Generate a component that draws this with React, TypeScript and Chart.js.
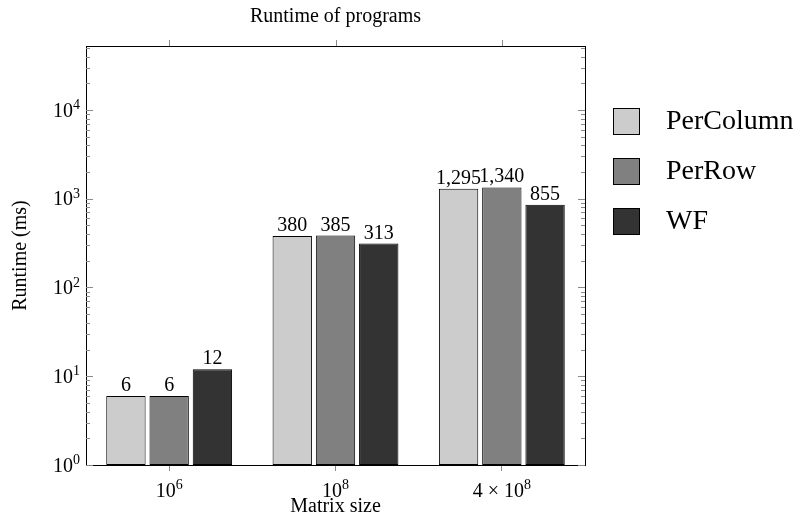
import React, { useEffect, useRef } from 'react';
import { Chart, registerables } from 'chart.js';

Chart.register(...registerables);

const FONT = "'Liberation Serif', 'Times New Roman', 'DejaVu Serif', serif";

const categories = ['10⁶', '10⁸', '4 × 10⁸'];
// category tick labels split into [prefix, base, exponent] for typeset drawing
const categoryPrefix = ['', '', '4 × '];
const categoryExponent = [6, 8, 8];
const seriesNames = ['PerColumn', 'PerRow', 'WF'];
const perColumn = [6, 380, 1295];
const perRow = [6, 385, 1340];
const wf = [12, 313, 855];
const seriesColors = ['#cccccc', '#808080', '#333333'];
const yMin = 1;
const yMax = 52600;
const yDecades = [0, 1, 2, 3, 4];
const chartTitle = 'Runtime of programs';
const xTitle = 'Matrix size';
const yTitle = 'Runtime (ms)';

const BASE_SIZE = 20;
const EXP_SIZE = 14;
const EXP_RAISE = 7.5;

const frameTicksPlugin = {
  id: 'frameTicks',
  afterDraw(chart: any) {
    const { left, right, top, bottom } = chart.chartArea;
    const ctx = chart.ctx as CanvasRenderingContext2D;
    const line = (x1: number, y1: number, x2: number, y2: number) => {
      ctx.beginPath();
      ctx.moveTo(x1, y1);
      ctx.lineTo(x2, y2);
      ctx.stroke();
    };
    ctx.save();
    ctx.lineWidth = 1;
    ctx.strokeStyle = '#8a8a8a';
    const ys = chart.scales.y;
    yDecades.forEach((e) => {
      for (let m = 1; m <= 9; m++) {
        const v = m * Math.pow(10, e);
        if (v < yMin || v > yMax) continue;
        const py = Math.round(ys.getPixelForValue(v)) + 0.5;
        const len = m === 1 ? 7 : 4;
        line(left, py, left + len, py);
        line(right, py, right - len, py);
      }
    });
    const xs = chart.scales.x;
    categories.forEach((_, i) => {
      const px = Math.round(xs.getPixelForValue(i)) + 0.5;
      line(px, top, px, top - 6);
    });
    ctx.strokeStyle = '#000';
    line(left, Math.round(top) + 0.5, right + 1, Math.round(top) + 0.5);
    line(Math.round(right) + 0.5, top, Math.round(right) + 0.5, bottom);
    ctx.restore();
  },
};

// typeset "prefix + 10^exp" labels (base + raised exponent) for both axes
const powerLabelsPlugin = {
  id: 'powerLabels',
  afterDraw(chart: any) {
    const ctx = chart.ctx as CanvasRenderingContext2D;
    const { left, bottom } = chart.chartArea;
    const measure = (prefix: string, exp: number) => {
      ctx.font = `${BASE_SIZE}px ${FONT}`;
      const wb = ctx.measureText(prefix + '10').width;
      ctx.font = `${EXP_SIZE}px ${FONT}`;
      const we = ctx.measureText(String(exp)).width;
      return { wb, we };
    };
    const draw = (prefix: string, exp: number, x: number, baseline: number) => {
      const { wb } = measure(prefix, exp);
      ctx.font = `${BASE_SIZE}px ${FONT}`;
      ctx.fillText(prefix + '10', x, baseline);
      ctx.font = `${EXP_SIZE}px ${FONT}`;
      ctx.fillText(String(exp), x + wb, baseline - EXP_RAISE);
    };
    ctx.save();
    ctx.fillStyle = '#000';
    ctx.textAlign = 'left';
    ctx.textBaseline = 'alphabetic';
    const ys = chart.scales.y;
    yDecades.forEach((e) => {
      const py = ys.getPixelForValue(Math.pow(10, e));
      const { wb, we } = measure('', e);
      draw('', e, left - 6 - wb - we, py + 6.7);
    });
    const xs = chart.scales.x;
    categories.forEach((_, i) => {
      const px = xs.getPixelForValue(i);
      const { wb, we } = measure(categoryPrefix[i], categoryExponent[i]);
      draw(categoryPrefix[i], categoryExponent[i], px - (wb + we) / 2, bottom + 31.7);
    });
    ctx.restore();
  },
};

const dataLabelsPlugin = {
  id: 'dataLabels',
  afterDatasetsDraw(chart: any) {
    const ctx = chart.ctx as CanvasRenderingContext2D;
    ctx.save();
    ctx.font = `20px ${FONT}`;
    ctx.fillStyle = '#000';
    ctx.textAlign = 'center';
    ctx.textBaseline = 'alphabetic';
    chart.data.datasets.forEach((ds: any, i: number) => {
      const meta = chart.getDatasetMeta(i);
      meta.data.forEach((el: any, j: number) => {
        const v = ds.data[j] as number;
        ctx.fillText(v.toLocaleString('en-US'), el.x, el.y - 5);
      });
    });
    ctx.restore();
  },
};

const legendPlugin = {
  id: 'sideLegend',
  afterDraw(chart: any) {
    const { right, top } = chart.chartArea;
    const ctx = chart.ctx as CanvasRenderingContext2D;
    ctx.save();
    ctx.font = `28px ${FONT}`;
    ctx.textAlign = 'left';
    ctx.textBaseline = 'middle';
    const bx = Math.round(right) + 28;
    chart.data.datasets.forEach((ds: any, i: number) => {
      const cy = Math.round(top + 74.5 + 50 * i);
      ctx.fillStyle = ds.backgroundColor;
      ctx.fillRect(bx, cy - 13, 27, 27);
      ctx.strokeStyle = '#000';
      ctx.lineWidth = 1;
      ctx.strokeRect(bx + 0.5, cy - 12.5, 26, 26);
      ctx.fillStyle = '#000';
      ctx.fillText(ds.label, bx + 53, cy + 1);
    });
    ctx.restore();
  },
};

export default function App() {
  const ref = useRef<HTMLCanvasElement>(null);
  useEffect(() => {
    const values = [perColumn, perRow, wf];
    const chart = new Chart(ref.current as HTMLCanvasElement, {
      type: 'bar',
      data: {
        labels: categories,
        datasets: seriesNames.map((name, i) => ({
          label: name,
          data: values[i],
          backgroundColor: seriesColors[i],
          borderColor: '#000000',
          borderWidth: 1,
          borderSkipped: false,
          categoryPercentage: 0.78,
          barPercentage: 0.91,
        })),
      },
      options: {
        responsive: false,
        animation: false,
        devicePixelRatio: 1,
        layout: { padding: { left: 0, right: 216, top: 0, bottom: 0 } },
        plugins: {
          legend: { display: false },
          tooltip: { enabled: false },
          title: {
            display: true,
            text: chartTitle,
            fullSize: false,
            color: '#000',
            font: { family: FONT, size: 20, weight: 'normal' },
            padding: { top: 5, bottom: 17 },
          },
        },
        scales: {
          x: {
            type: 'category',
            grid: {
              display: true,
              drawOnChartArea: false,
              drawTicks: true,
              tickLength: 6,
              offset: false,
              color: '#8a8a8a',
              tickColor: '#8a8a8a',
            },
            border: { display: true, color: '#000', width: 1 },
            ticks: { display: false, autoSkip: false, maxRotation: 0 },
            title: {
              display: true,
              text: xTitle,
              color: '#000',
              font: { family: FONT, size: 20 },
              padding: { top: 0, bottom: 4 },
            },
            afterFit(scale: any) {
              scale.height = 58;
            },
          },
          y: {
            type: 'logarithmic',
            min: yMin,
            max: yMax,
            grid: { display: false, drawTicks: false },
            border: { display: true, color: '#000', width: 1 },
            ticks: { display: false, autoSkip: false },
            title: {
              display: true,
              text: yTitle,
              color: '#000',
              font: { family: FONT, size: 20 },
              padding: { top: 9, bottom: 0 },
            },
            afterFit(scale: any) {
              scale.width = 86;
            },
          },
        },
      } as any,
      plugins: [frameTicksPlugin, powerLabelsPlugin, dataLabelsPlugin, legendPlugin],
    });
    return () => chart.destroy();
  }, []);
  return (
    <div style={{ position: 'absolute', left: 0, top: 0, width: 801, height: 523, background: '#fff' }}>
      <canvas ref={ref} width={801} height={523} style={{ display: 'block' }} />
    </div>
  );
}
